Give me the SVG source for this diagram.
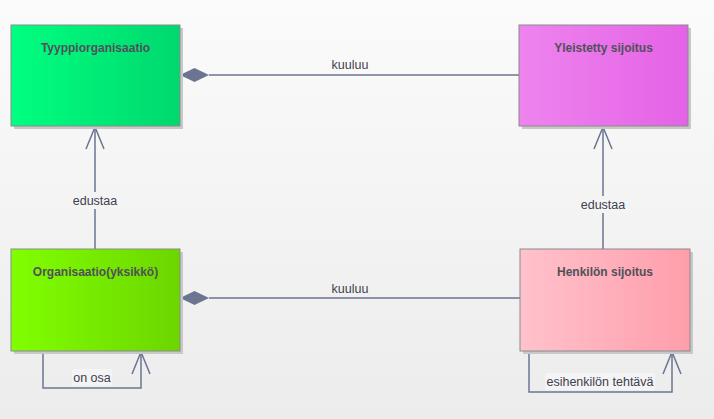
<svg xmlns="http://www.w3.org/2000/svg" width="714" height="419" viewBox="0 0 714 419">
<defs>
<linearGradient id="bg" x1="0" y1="0" x2="0" y2="1"><stop offset="0" stop-color="#fbfbfb"/><stop offset="1" stop-color="#ececec"/></linearGradient>
<linearGradient id="g1" x1="0" y1="0" x2="1" y2="0"><stop offset="0" stop-color="#00ff80"/><stop offset="1" stop-color="#00d86e"/></linearGradient>
<linearGradient id="g2" x1="0" y1="0" x2="1" y2="0"><stop offset="0" stop-color="#ee84ee"/><stop offset="1" stop-color="#e462e6"/></linearGradient>
<linearGradient id="g3" x1="0" y1="0" x2="1" y2="0"><stop offset="0" stop-color="#80ff00"/><stop offset="1" stop-color="#6cd600"/></linearGradient>
<linearGradient id="g4" x1="0" y1="0" x2="1" y2="0"><stop offset="0" stop-color="#ffc2cc"/><stop offset="1" stop-color="#ff9eab"/></linearGradient>
</defs>
<style>
.box{stroke:#8a8a8a;stroke-width:1}
.sh{fill:#c8c8c8}
.t{font-family:"Liberation Sans",Arial,sans-serif;font-weight:bold;font-size:12px;fill:#50505a;text-anchor:middle}
.l{font-family:"Liberation Sans",Arial,sans-serif;font-size:12.5px;fill:#404050;text-anchor:middle}
.e{fill:none;stroke:#6b7591;stroke-width:1.5}
.d{fill:#6b7591}
.lb{fill:#f4f4f4}
</style>
<rect width="714" height="419" fill="url(#bg)"/>
<g id="edges">
<line class="e" x1="209" y1="75" x2="519" y2="75"/>
<polygon class="d" points="180,75 194.5,68 209,75 194.5,82"/>
<text class="l" x="350" y="69">kuuluu</text>
<line class="e" x1="209" y1="298" x2="520" y2="298"/>
<polygon class="d" points="180,298 194.5,291 209,298 194.5,305"/>
<text class="l" x="350" y="293">kuuluu</text>
<line class="e" x1="95" y1="249" x2="95" y2="127"/>
<polyline class="e" points="86,149 95,127 104,149"/>
<rect class="lb" x="68" y="192" width="54" height="17"/>
<text class="l" x="95" y="205">edustaa</text>
<line class="e" x1="603" y1="249" x2="603" y2="127"/>
<polyline class="e" points="594,149 603,127 612,149"/>
<rect class="lb" x="576" y="196" width="54" height="17"/>
<text class="l" x="603" y="209">edustaa</text>
<polyline class="e" points="43,352 43,388 141,388 141,352"/>
<polyline class="e" points="132,374 141,352 150,374"/>
<rect class="lb" x="72" y="369" width="40" height="17"/>
<text class="l" x="92" y="382">on osa</text>
<polyline class="e" points="529,352 529,392 672,392 672,352"/>
<polyline class="e" points="663,374 672,352 681,374"/>
<rect class="lb" x="545" y="373" width="110" height="17"/>
<text class="l" x="600" y="386">esihenkilön tehtävä</text>
</g>
<g id="n1">
<rect class="sh" x="14" y="28" width="169" height="101"/>
<rect class="box" x="11" y="25" width="169" height="101" fill="url(#g1)"/>
<text class="t" x="95.5" y="52">Tyyppiorganisaatio</text>
</g>
<g id="n2">
<rect class="sh" x="522" y="28" width="169" height="101"/>
<rect class="box" x="519" y="25" width="169" height="101" fill="url(#g2)"/>
<text class="t" x="603.5" y="52">Yleistetty sijoitus</text>
</g>
<g id="n3">
<rect class="sh" x="14" y="252" width="169" height="102"/>
<rect class="box" x="11" y="249" width="169" height="102" fill="url(#g3)"/>
<text class="t" x="95.5" y="276">Organisaatio(yksikkö)</text>
</g>
<g id="n4">
<rect class="sh" x="523" y="252" width="170" height="102"/>
<rect class="box" x="520" y="249" width="170" height="102" fill="url(#g4)"/>
<text class="t" x="605" y="276">Henkilön sijoitus</text>
</g>
</svg>
